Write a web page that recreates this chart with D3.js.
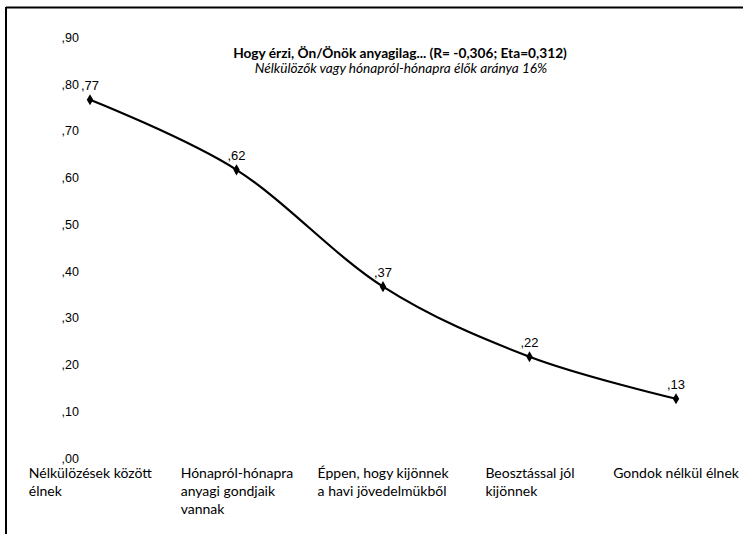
<!DOCTYPE html>
<html><head><meta charset="utf-8">
<script src="https://cdn.jsdelivr.net/npm/d3@7/dist/d3.min.js"></script>
<style>body{margin:0;background:#fff}svg{display:block}</style>
</head><body>
<svg id="c" width="743" height="534"></svg>
<script>
const categories = [
  ["Nélkülözések között", "élnek"],
  ["Hónapról-hónapra", "anyagi gondjaik", "vannak"],
  ["Éppen, hogy kijönnek", "a havi jövedelmükből"],
  ["Beosztással jól", "kijönnek"],
  ["Gondok nélkül élnek"]
];
const values = [0.77, 0.62, 0.37, 0.22, 0.13];
const yTicks = [0, 0.1, 0.2, 0.3, 0.4, 0.5, 0.6, 0.7, 0.8, 0.9];
const title = "Hogy érzi, Ön/Önök anyagilag... (R= -0,306; Eta=0,312)";
const subtitle = "Nélkülözők vagy hónapról-hónapra élők aránya 16%";

const svg = d3.select("#c");
const fmt = v => d3.format(".2f")(v).replace(/^0\./, ",").replace(".", ",");
const FONT = "Lato, 'Open Sans', sans-serif";

// scale a text's font-size so it spans a target width
function fit(sel, target, base) {
  sel.attr("font-size", base);
  const w = sel.node().getComputedTextLength();
  const fs = base * target / w;
  sel.attr("font-size", fs);
  return fs;
}

// frame (top and left edges only visible)
svg.append("line").attr("x1", 6).attr("x2", 743).attr("y1", 7.5).attr("y2", 7.5).attr("stroke", "#000").attr("stroke-width", 2);
svg.append("line").attr("x1", 6).attr("x2", 6).attr("y1", 7).attr("y2", 534).attr("stroke", "#000").attr("stroke-width", 2);

const x = d3.scalePoint().domain(d3.range(categories.length)).range([90, 676]);
const y = d3.scaleLinear().domain([0, 0.9]).range([459.5, 39]);

// y axis labels (no axis line, no ticks)
const yAxis = d3.axisLeft(y).tickValues(yTicks).tickSize(0).tickPadding(0).tickFormat(fmt);
const ya = svg.append("g").attr("transform", "translate(79,0)").call(yAxis);
ya.select(".domain").remove();
ya.selectAll("text").attr("font-family", "Liberation Sans, Arial, sans-serif").attr("font-size", 12.5).attr("fill", "#000").attr("dy", "0.2em");

// x axis labels: size fitted on the first label's widest line
const probe = svg.append("text").attr("font-family", FONT).text(categories[0][0]);
const xfs = Math.min(14, fit(probe, 125, 13));
probe.remove();
const xAxis = d3.axisBottom(x).tickSize(0).tickFormat("");
const xa = svg.append("g").attr("transform", "translate(0,463)").call(xAxis);
xa.select(".domain").remove();
xa.selectAll(".tick").each(function(i) {
  const g = d3.select(this);
  const t = g.append("text").attr("font-family", FONT).attr("font-size", xfs).attr("fill", "#000").attr("text-anchor", "start");
  categories[i].forEach((ln, k) => t.append("tspan").attr("x", 0).attr("y", 15 + k * 18).text(ln));
  const w = t.node().getBBox().width;
  t.selectAll("tspan").attr("x", -w / 2);
});

// line
const line = d3.line().x((d, i) => x(i)).y(d => y(d)).curve(d3.curveCardinal.tension(0));
svg.append("path").datum(values).attr("d", line).attr("fill", "none").attr("stroke", "#000").attr("stroke-width", 2.2);

// markers
svg.selectAll(".m").data(values).join("path").attr("class", "m")
  .attr("d", d3.symbol(d3.symbolDiamond, 36))
  .attr("transform", (d, i) => `translate(${x(i)},${y(d)})`).attr("fill", "#000");

// data labels
svg.selectAll(".dl").data(values).join("text").attr("class", "dl")
  .attr("x", (d, i) => x(i)).attr("y", d => y(d) - 10)
  .attr("text-anchor", "middle").attr("font-family", "Liberation Sans, Arial, sans-serif").attr("font-size", 13)
  .text(d => fmt(d));

// titles
const t1 = svg.append("text").attr("x", 400).attr("y", 58).attr("text-anchor", "middle")
  .attr("font-family", FONT).attr("font-weight", "bold").text(title);
fit(t1, 334, 12);
const t2 = svg.append("text").attr("x", 401).attr("y", 72.5).attr("text-anchor", "middle")
  .attr("font-family", FONT).attr("font-style", "italic").text(subtitle);
fit(t2, 293, 12);
</script>
</body></html>
